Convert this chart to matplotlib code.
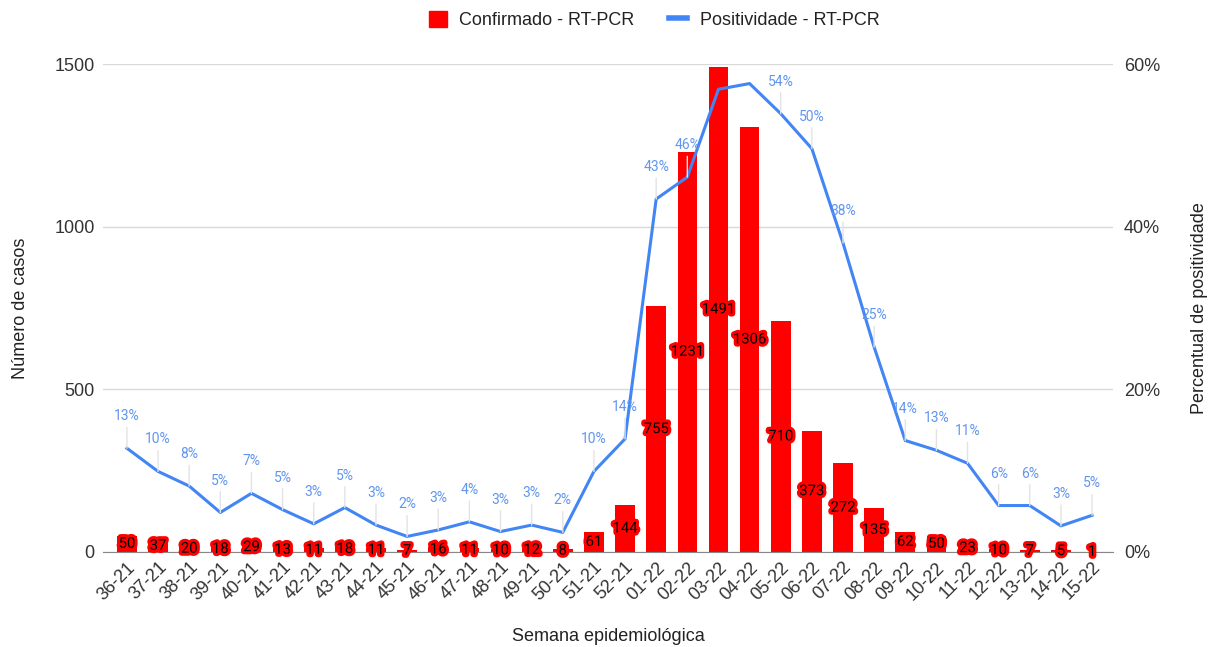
import matplotlib.pyplot as plt
import matplotlib.patheffects as pe
from matplotlib.patches import Patch
from matplotlib.lines import Line2D

plt.rcParams["font.family"] = ["Liberation Sans", "DejaVu Sans"]

semanas = ["36-21", "37-21", "38-21", "39-21", "40-21", "41-21", "42-21", "43-21",
           "44-21", "45-21", "46-21", "47-21", "48-21", "49-21", "50-21", "51-21",
           "52-21", "01-22", "02-22", "03-22", "04-22", "05-22", "06-22", "07-22",
           "08-22", "09-22", "10-22", "11-22", "12-22", "13-22", "14-22", "15-22"]
confirmados = [50, 37, 20, 18, 29, 13, 11, 18, 11, 7, 16, 11, 10, 12, 8, 61,
               144, 755, 1231, 1491, 1306, 710, 373, 272, 135, 62, 50, 23, 10, 7, 5, 1]
positividade = [12.75, 9.9, 8.1, 4.85, 7.2, 5.2, 3.45, 5.45, 3.3, 1.9, 2.7, 3.7, 2.5, 3.3,
                2.4, 9.9, 13.9, 43.4, 46.1, 56.9, 57.6, 53.9, 49.6, 38.0, 25.2, 13.7,
                12.5, 10.9, 5.7, 5.7, 3.2, 4.5]
# labels hidden by the chart where they collide (03-22, 04-22)
rotulos_pct = ["13%", "10%", "8%", "5%", "7%", "5%", "3%", "5%", "3%", "2%", "3%", "4%",
               "3%", "3%", "2%", "10%", "14%", "43%", "46%", "", "", "54%", "50%", "38%",
               "25%", "14%", "13%", "11%", "6%", "6%", "3%", "5%"]

RED = "#ff0000"
BLUE = "#4285f4"
LBLUE = "#6196ee"
GRID = "#d9d9d9"
TXT = "#333333"

fig = plt.figure(figsize=(12.11, 6.47), dpi=100)
ax = fig.add_axes([0.085, 0.147, 0.834, 0.754])
ax2 = ax.twinx()

x = list(range(len(semanas)))
ax.bar(x, confirmados, width=0.63, color=RED, zorder=2)
for xi, v in zip(x, confirmados):
    ax.text(xi, v / 2, str(v), ha="center", va="center", fontsize=10.7, color="black",
            family=["Roboto", "DejaVu Sans"], zorder=6,
            path_effects=[pe.withStroke(linewidth=4.5, foreground=RED)])

ax.set_ylim(0, 1500)
ax.set_yticks([0, 500, 1000, 1500])
ax.set_xlim(-0.77, 31.67)
ax.set_xticks(x)
ax.set_xticklabels(semanas, rotation=45, ha="right", rotation_mode="anchor",
                   fontsize=13, color=TXT)
ax.tick_params(axis="x", length=0, pad=5)
ax.tick_params(axis="y", length=0, labelsize=13, labelcolor=TXT, pad=6)
ax.grid(axis="y", color=GRID, linewidth=1, zorder=0)
ax.set_axisbelow(True)
for s in ["top", "right", "left"]:
    ax.spines[s].set_visible(False)
ax.spines["bottom"].set_color("#888888")
ax.spines["bottom"].set_zorder(3)
ax.set_ylabel("Número de casos", fontsize=13, color="#222222", labelpad=18)
ax.set_xlabel("Semana epidemiológica", fontsize=13, color="#222222", labelpad=18)

ax2.plot(x, positividade, color=BLUE, linewidth=2.2, zorder=4)
for xi, p, t in zip(x, positividade, rotulos_pct):
    if not t:
        continue
    ax2.annotate(t, (xi, p), xytext=(0, 23), textcoords="offset points",
                 ha="center", va="center", fontsize=10, color=LBLUE, zorder=5,
                 family=["Roboto", "DejaVu Sans"],
                 arrowprops=dict(arrowstyle="-", color="#e3e3e3", lw=1,
                                 shrinkA=1, shrinkB=0))
ax2.set_ylim(0, 60)
ax2.set_yticks([0, 20, 40, 60])
ax2.set_yticklabels(["0%", "20%", "40%", "60%"])
ax2.tick_params(axis="y", length=0, labelsize=13, labelcolor=TXT, pad=8)
for s in ["top", "right", "left", "bottom"]:
    ax2.spines[s].set_visible(False)
ax2.set_ylabel("Percentual de positividade", fontsize=13, color="#222222", labelpad=22)

handles = [Patch(facecolor=RED, edgecolor=RED),
           Line2D([0], [0], color=BLUE, linewidth=4)]
fig.legend(handles, ["Confirmado - RT-PCR", "Positividade - RT-PCR"],
           loc="center", bbox_to_anchor=(0.540, 0.969), ncol=2, frameon=False,
           fontsize=13, handlelength=1.0, handleheight=1.0, handletextpad=0.7,
           columnspacing=1.9, labelcolor="#222222")

fig.savefig("out.png", dpi=100)
